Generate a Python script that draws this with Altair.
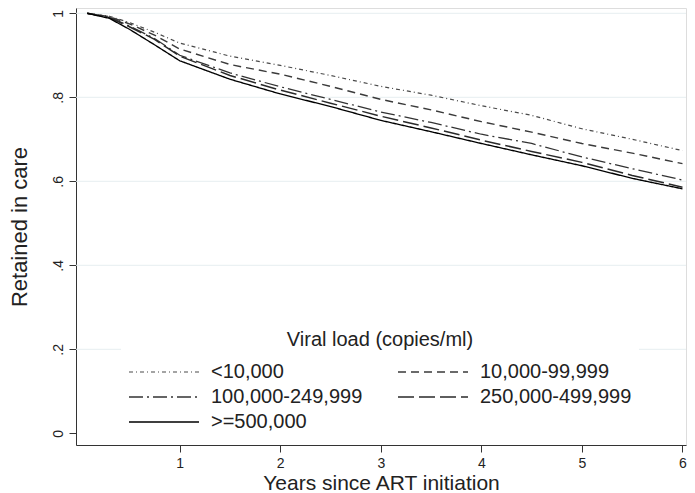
import altair as alt
import pandas as pd

# ---- data ----
years = [0.08, 0.3, 0.5, 0.75, 1.0, 1.5, 2.0, 2.5, 3.0, 3.5, 4.0, 4.5, 5.0, 5.5, 6.0]

groups = ["<10,000", "10,000-99,999", "100,000-249,999", "250,000-499,999", ">=500,000"]
# legend fills column by column: this order puts the entries in rows as in the reference
legend_order = ["<10,000", "100,000-249,999", ">=500,000", "10,000-99,999", "250,000-499,999"]

vl_lt10k = [1.0, 0.993, 0.978, 0.955, 0.929, 0.898, 0.876, 0.852, 0.826, 0.805, 0.780, 0.757, 0.725, 0.700, 0.673]
vl_10k_100k = [1.0, 0.992, 0.975, 0.948, 0.915, 0.878, 0.855, 0.826, 0.795, 0.770, 0.742, 0.717, 0.690, 0.667, 0.642]
vl_100k_250k = [1.0, 0.990, 0.970, 0.940, 0.900, 0.858, 0.825, 0.795, 0.765, 0.740, 0.712, 0.690, 0.658, 0.630, 0.603]
vl_250k_500k = [1.0, 0.990, 0.968, 0.938, 0.898, 0.852, 0.817, 0.786, 0.755, 0.727, 0.698, 0.671, 0.645, 0.614, 0.586]
vl_ge500k = [1.0, 0.988, 0.962, 0.925, 0.887, 0.843, 0.808, 0.778, 0.745, 0.718, 0.690, 0.663, 0.637, 0.607, 0.582]

series = [vl_lt10k, vl_10k_100k, vl_100k_250k, vl_250k_500k, vl_ge500k]

grid_values = [0.2, 0.4, 0.6, 0.8, 1.0]
y_ticks = [0, 0.2, 0.4, 0.6, 0.8, 1.0]
x_ticks = [1, 2, 3, 4, 5, 6]

rows = []
for g, vals in zip(groups, series):
    for t, v in zip(years, vals):
        rows.append({"t": t, "retained": v, "group": g})
df = pd.DataFrame(rows)
grid_df = pd.DataFrame({"y": grid_values})

FONT = "Liberation Sans"
W, H = 610, 437
xdom = [-0.031, 6.035]
ydom = [-0.0279, 1.0126]

style = {
    "<10,000": ([4, 3, 1, 3], "#4a4a4a", 1.2),
    "10,000-99,999": ([8, 5], "#3a3a3a", 1.5),
    "100,000-249,999": ([14, 4, 2, 4], "#333333", 1.5),
    "250,000-499,999": ([16, 5], "#2a2a2a", 1.5),
    ">=500,000": ([1, 0], "#000000", 2.0),
}
dash_range = [style[g][0] for g in legend_order]
color_range = [style[g][1] for g in legend_order]
width_range = [style[g][2] for g in legend_order]

legend = alt.Legend(
    title="Viral load (copies/ml)",
    orient="none",
    legendX=45,
    legendY=315,
    columns=2,
    columnPadding=34,
    rowPadding=5,
    padding=7,
    fillColor="white",
    symbolType="stroke",
    symbolSize=4900,
    clipHeight=20,
    labelOffset=11,
    labelFontSize=20,
    labelFont=FONT,
    labelColor="#222222",
    titleFontSize=20,
    titleFont=FONT,
    titleFontWeight="normal",
    titleColor="#222222",
    titleAnchor="middle",
    titlePadding=12,
    titleLimit=500,
    labelLimit=300,
)

grid = alt.Chart(grid_df).mark_rule(color="#e6eef0", strokeWidth=1).encode(
    y=alt.Y("y:Q", scale=alt.Scale(domain=ydom, nice=False, zero=False))
)

lines = alt.Chart(df).mark_line().encode(
    x=alt.X(
        "t:Q",
        scale=alt.Scale(domain=xdom, nice=False, zero=False),
        axis=alt.Axis(
            values=x_ticks,
            title="Years since ART initiation",
            grid=False,
            tickSize=7,
            tickColor="#333333",
            domainColor="#333333",
            labelFont=FONT,
            labelFontSize=14,
            labelColor="#222222",
            labelPadding=4,
            titleFont=FONT,
            titleFontSize=21,
            titleFontWeight="normal",
            titleColor="#222222",
            titlePadding=2,
        ),
    ),
    y=alt.Y(
        "retained:Q",
        scale=alt.Scale(domain=ydom, nice=False, zero=False),
        axis=alt.Axis(
            values=y_ticks,
            title="Retained in care",
            grid=False,
            tickSize=7,
            tickColor="#333333",
            domainColor="#333333",
            labelFont=FONT,
            labelFontSize=14,
            labelColor="#222222",
            labelAngle=270,
            labelAlign="center",
            labelBaseline="bottom",
            labelPadding=4,
            labelExpr="datum.value == 0 ? '0' : datum.value == 1 ? '1' : replace(format(datum.value, '.1f'), '0.', '.')",
            titleFont=FONT,
            titleFontSize=22,
            titleFontWeight="normal",
            titleColor="#222222",
            titlePadding=20,
        ),
    ),
    color=alt.Color("group:N", scale=alt.Scale(domain=legend_order, range=color_range), sort=legend_order, legend=legend),
    strokeDash=alt.StrokeDash("group:N", scale=alt.Scale(domain=legend_order, range=dash_range), sort=legend_order, legend=legend),
    strokeWidth=alt.StrokeWidth("group:N", scale=alt.Scale(domain=legend_order, range=width_range), sort=legend_order, legend=legend),
    order="t:Q",
)

chart = alt.layer(grid, lines).properties(
    width=W,
    height=H,
    autosize=alt.AutoSizeParams(type="none"),
    padding={"left": 68, "top": 0, "right": 1, "bottom": 48},
).configure_view(stroke=None).configure(background="white")

chart.save("out.html", embed_options={"renderer": "svg", "actions": False})
